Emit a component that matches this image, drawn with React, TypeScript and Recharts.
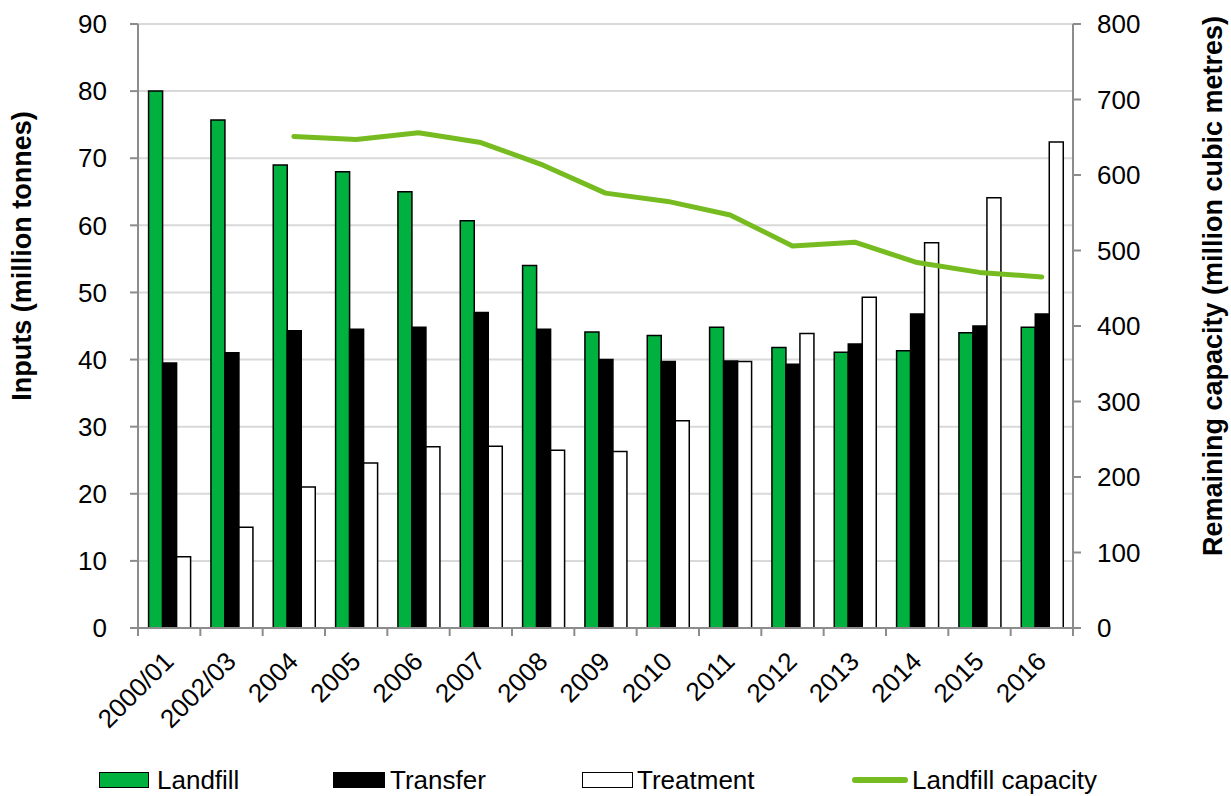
import React from "react";
import {
  ComposedChart, Bar, Line, XAxis, YAxis, CartesianGrid, Legend,
} from "recharts";

const years = [
  "2000/01", "2002/03", "2004", "2005", "2006", "2007", "2008", "2009",
  "2010", "2011", "2012", "2013", "2014", "2015", "2016",
];
const landfill = [80, 75.7, 69, 68, 65, 60.7, 54, 44.1, 43.6, 44.8, 41.8, 41.1, 41.3, 44, 44.8];
const transfer = [39.5, 41, 44.3, 44.5, 44.8, 47, 44.5, 40, 39.7, 39.8, 39.3, 42.3, 46.8, 45, 46.8];
const treatment = [10.6, 15, 21, 24.6, 27, 27.1, 26.5, 26.3, 30.9, 39.7, 43.9, 49.3, 57.4, 64.1, 72.4];
const capacity: (number | null)[] = [null, null, 651, 647, 656, 643, 613, 576, 565, 547, 506, 511, 484, 471, 465];

const leftTicks = [0, 10, 20, 30, 40, 50, 60, 70, 80, 90];
const rightTicks = [0, 100, 200, 300, 400, 500, 600, 700, 800];

const data = years.map((year, i) => ({
  year,
  landfill: landfill[i],
  transfer: transfer[i],
  treatment: treatment[i],
  capacity: capacity[i],
}));

const W = 1231;
const H = 796;
const LEFT_W = 138;
const RIGHT_W = 158;
const BAND = (W - LEFT_W - RIGHT_W) / years.length;
const FONT = "'Liberation Sans', Arial, sans-serif";
const FS = 26;
const AXIS = "#8c8c8c";
const GREEN = "#00b140";
const LINE_GREEN = "#76bc21";

// Excel style: tick marks sit between categories, labels at -45°
const XTick = (props: any) => {
  const { x, y, payload, index } = props;
  const left = x - BAND / 2;
  return (
    <g>
      <line x1={left} y1={y} x2={left} y2={y + 8} stroke={AXIS} strokeWidth={2} />
      {index === years.length - 1 && (
        <line x1={x + BAND / 2} y1={y} x2={x + BAND / 2} y2={y + 8} stroke={AXIS} strokeWidth={2} />
      )}
      <text
        transform={`translate(${x + 6},${y + 35}) rotate(-45)`}
        textAnchor="end"
        fontSize={FS}
        fontFamily={FONT}
        fill="#000"
      >
        {payload.value}
      </text>
    </g>
  );
};

// swatch / text x positions in the legend row
const legendItems = [
  { label: "Landfill", kind: "box", fill: GREEN, left: 99, w: 50, text: 157 },
  { label: "Transfer", kind: "box", fill: "#000", left: 333, w: 52, text: 390 },
  { label: "Treatment", kind: "box", fill: "#fff", left: 582, w: 51, text: 637 },
  { label: "Landfill capacity", kind: "line", fill: LINE_GREEN, left: 852, w: 56, text: 912 },
];

const LegendContent = () => (
  <div style={{ position: "relative", width: W, height: 34, fontFamily: FONT, fontSize: FS, color: "#000" }}>
    {legendItems.map((it) => (
      <React.Fragment key={it.label}>
        {it.kind === "box" ? (
          <span
            style={{
              position: "absolute", left: it.left, top: 10, width: it.w, height: 16,
              background: it.fill, border: "1.5px solid #000", boxSizing: "border-box",
            }}
          />
        ) : (
          <span
            style={{
              position: "absolute", left: it.left, top: 15, width: it.w, height: 6,
              background: it.fill, borderRadius: 3,
            }}
          />
        )}
        <span style={{ position: "absolute", left: it.text, top: 3, lineHeight: "30px", whiteSpace: "nowrap" }}>
          {it.label}
        </span>
      </React.Fragment>
    ))}
  </div>
);

export default function App() {
  return (
    <div style={{ position: "absolute", left: 0, top: 0, width: W, height: H, background: "#fff" }}>
      <ComposedChart
        width={W}
        height={H}
        data={data}
        margin={{ top: 24, right: 0, bottom: 0, left: 0 }}
        barGap={0}
        barCategoryGap="17%"
      >
        <CartesianGrid vertical={false} stroke="#d9d9d9" strokeWidth={2} yAxisId="left" />
        <XAxis
          dataKey="year"
          height={134}
          interval={0}
          axisLine={{ stroke: AXIS, strokeWidth: 2 }}
          tickLine={false}
          tickSize={0}
          tickMargin={0}
          tick={<XTick />}
        />
        <YAxis
          yAxisId="left"
          orientation="left"
          width={LEFT_W}
          domain={[0, 90]}
          ticks={leftTicks}
          interval={0}
          axisLine={{ stroke: AXIS, strokeWidth: 2 }}
          tickLine={{ stroke: AXIS, strokeWidth: 2 }}
          tickSize={8}
          tickMargin={23}
          tick={{ fontSize: FS, fontFamily: FONT, fill: "#000" }}
          label={{
            content: () => (
              <text
                transform="translate(31,256) rotate(-90)"
                textAnchor="middle"
                fontSize={27}
                fontWeight="bold"
                fontFamily={FONT}
                fill="#000"
              >
                Inputs (million tonnes)
              </text>
            ),
          }}
        />
        <YAxis
          yAxisId="right"
          orientation="right"
          width={RIGHT_W}
          domain={[0, 800]}
          ticks={rightTicks}
          interval={0}
          axisLine={{ stroke: AXIS, strokeWidth: 2 }}
          tickLine={{ stroke: AXIS, strokeWidth: 2 }}
          tickSize={8}
          tickMargin={16}
          tick={{ fontSize: FS, fontFamily: FONT, fill: "#000", textAnchor: "start" }}
          label={{
            content: () => (
              <text
                transform="translate(1222,286) rotate(-90)"
                textAnchor="middle"
                fontSize={27}
                fontWeight="bold"
                fontFamily={FONT}
                fill="#000"
              >
                Remaining capacity (million cubic metres)
              </text>
            ),
          }}
        />
        <Legend
          verticalAlign="bottom"
          content={<LegendContent />}
          wrapperStyle={{ left: 0, bottom: 0, width: W, height: 34 }}
        />
        <Bar yAxisId="left" dataKey="landfill" name="Landfill" fill={GREEN} stroke="#000" strokeWidth={1.5} isAnimationActive={false} />
        <Bar yAxisId="left" dataKey="transfer" name="Transfer" fill="#000" stroke="#000" strokeWidth={1.5} isAnimationActive={false} />
        <Bar yAxisId="left" dataKey="treatment" name="Treatment" fill="#fff" stroke="#000" strokeWidth={1.5} isAnimationActive={false} />
        <Line
          yAxisId="right"
          dataKey="capacity"
          name="Landfill capacity"
          stroke={LINE_GREEN}
          strokeWidth={5}
          strokeLinecap="round"
          strokeLinejoin="round"
          dot={false}
          activeDot={false}
          type="linear"
          isAnimationActive={false}
        />
      </ComposedChart>
    </div>
  );
}
